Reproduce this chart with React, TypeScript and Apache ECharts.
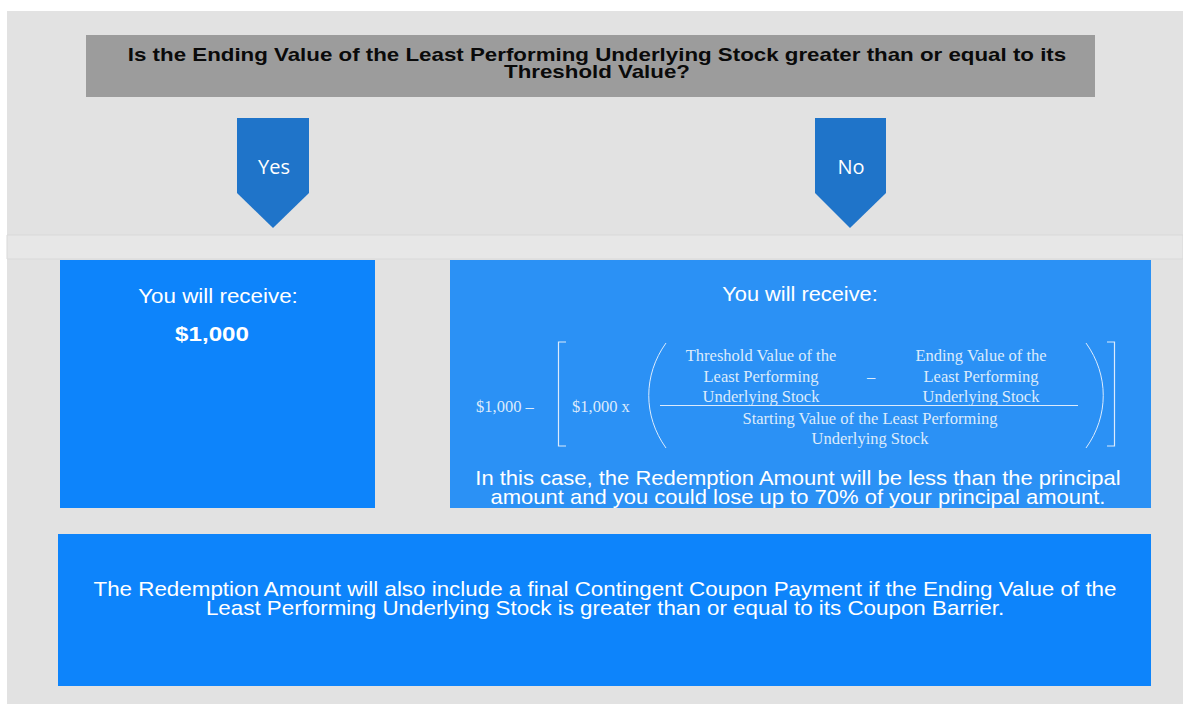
import React, { useEffect, useRef } from "react";
import * as echarts from "echarts";

const headerLines = [
  "Is the Ending Value of the Least Performing Underlying Stock greater than or equal to its",
  "Threshold Value?",
];
const branchLabels = ["Yes", "No"];
const leftBoxLines = ["You will receive:", "$1,000"];
const rightBoxTitle = ["You will receive:"];
const formulaPrefix = ["$1,000 –", "$1,000 x"];
const numeratorLeft = ["Threshold Value of the", "Least Performing", "Underlying Stock"];
const numeratorRight = ["Ending Value of the", "Least Performing", "Underlying Stock"];
const denominator = ["Starting Value of the Least Performing", "Underlying Stock"];
const rightNote = [
  "In this case, the Redemption Amount will be less than the principal",
  "amount and you could lose up to 70% of your principal amount.",
];
const bottomNote = [
  "The Redemption Amount will also include a final Contingent Coupon Payment if the Ending Value of the",
  "Least Performing Underlying Stock is greater than or equal to its Coupon Barrier.",
];

const SANS = "'Liberation Sans', Arial, sans-serif";
const SERIF = "'Liberation Serif', 'Times New Roman', serif";
const FORMULA_COLOR = "#dcebfc";

function txt(text: string, x: number, y: number, font: number, color: string, opts: any = {}) {
  return {
    type: "text",
    x,
    y,
    scaleX: opts.scaleX ?? 1,
    style: {
      text,
      fill: color,
      font: `${opts.weight ?? "normal"} ${font}px ${opts.family ?? SANS}`,
      textAlign: opts.align ?? "center",
      textVerticalAlign: "middle",
    },
  };
}

export default function App() {
  const ref = useRef<HTMLDivElement>(null);
  useEffect(() => {
    document.body.style.margin = "0";
    const chart = echarts.init(ref.current!, undefined, { renderer: "svg" });
    const els: any[] = [];
    // panel
    els.push({ type: "rect", shape: { x: 7, y: 11, width: 1176, height: 693 }, style: { fill: "#e2e2e2" } });
    els.push({ type: "rect", shape: { x: 7, y: 235, width: 1176, height: 24 }, style: { fill: "#e7e7e7", stroke: "#d9d9d9", lineWidth: 1 } });
    // header
    els.push({ type: "rect", shape: { x: 86, y: 35, width: 1009, height: 62 }, style: { fill: "#9c9c9c" } });
    els.push(txt(headerLines[0], 597, 55, 18, "#0a0a0a", { weight: "bold", scaleX: 1.24 }));
    els.push(txt(headerLines[1], 597, 72, 18, "#0a0a0a", { weight: "bold", scaleX: 1.24 }));
    // arrows
    const arrows = [
      { cx: 273, l: 237, r: 309 },
      { cx: 850, l: 815, r: 886 },
    ];
    arrows.forEach((a, i) => {
      els.push({
        type: "polygon",
        shape: { points: [[a.l, 118], [a.r, 118], [a.r, 193], [a.cx, 228], [a.l, 193]] },
        style: { fill: "#1f74c9" },
      });
      els.push(txt(branchLabels[i], a.cx + 1, 166, 20, "#ffffff", { family: "'Open Sans', 'DejaVu Sans', sans-serif" }));
    });
    // left box
    els.push({ type: "rect", shape: { x: 60, y: 260, width: 315, height: 248 }, style: { fill: "#0d84fb" } });
    els.push(txt(leftBoxLines[0], 218, 296, 20, "#ffffff", { scaleX: 1.12 }));
    els.push(txt(leftBoxLines[1], 212, 334, 21, "#ffffff", { weight: "bold", scaleX: 1.15 }));
    // right box
    els.push({ type: "rect", shape: { x: 450, y: 260, width: 701, height: 248 }, style: { fill: "#2b91f5" } });
    els.push(txt(rightBoxTitle[0], 800, 294, 20, "#ffffff", { scaleX: 1.09 }));
    // formula
    const FF = 16.5;
    els.push(txt(formulaPrefix[0], 476, 406, FF, FORMULA_COLOR, { family: SERIF, align: "left" }));
    els.push(txt(formulaPrefix[1], 572, 406, FF, FORMULA_COLOR, { family: SERIF, align: "left" }));
    const ly = [355, 376, 396];
    numeratorLeft.forEach((t, i) => els.push(txt(t, 761, ly[i], FF, FORMULA_COLOR, { family: SERIF })));
    numeratorRight.forEach((t, i) => els.push(txt(t, 981, ly[i], FF, FORMULA_COLOR, { family: SERIF })));
    els.push(txt("–", 871, 376, FF, FORMULA_COLOR, { family: SERIF }));
    const dy = [418, 438];
    denominator.forEach((t, i) => els.push(txt(t, 870, dy[i], FF, FORMULA_COLOR, { family: SERIF })));
    els.push({ type: "line", shape: { x1: 660, y1: 405.5, x2: 1078, y2: 405.5 }, style: { stroke: FORMULA_COLOR, lineWidth: 1 } });
    els.push({ type: "polyline", shape: { points: [[566, 342], [558.5, 342], [558.5, 446], [566, 446]] }, style: { stroke: FORMULA_COLOR, lineWidth: 1.2, fill: null } });
    els.push({ type: "polyline", shape: { points: [[1107, 342], [1114.5, 342], [1114.5, 446], [1107, 446]] }, style: { stroke: FORMULA_COLOR, lineWidth: 1.2, fill: null } });
    els.push({ type: "bezierCurve", shape: { x1: 666, y1: 343, cpx1: 643, cpy1: 375, cpx2: 643, cpy2: 416, x2: 666, y2: 448 }, style: { stroke: FORMULA_COLOR, lineWidth: 1, fill: null } });
    els.push({ type: "bezierCurve", shape: { x1: 1086, y1: 343, cpx1: 1109, cpy1: 375, cpx2: 1109, cpy2: 416, x2: 1086, y2: 448 }, style: { stroke: FORMULA_COLOR, lineWidth: 1, fill: null } });
    els.push(txt(rightNote[0], 798, 478, 20, "#ffffff", { scaleX: 1.1 }));
    els.push(txt(rightNote[1], 798, 497, 20, "#ffffff", { scaleX: 1.1 }));
    // bottom box
    els.push({ type: "rect", shape: { x: 58, y: 534, width: 1093, height: 152 }, style: { fill: "#0d84fb" } });
    els.push(txt(bottomNote[0], 605, 589, 21, "#ffffff", { scaleX: 1.066 }));
    els.push(txt(bottomNote[1], 605, 608, 21, "#ffffff", { scaleX: 1.066 }));

    chart.setOption({ animation: false, graphic: { elements: els } });
    return () => chart.dispose();
  }, []);
  return <div ref={ref} style={{ width: 1183, height: 704 }} />;
}
